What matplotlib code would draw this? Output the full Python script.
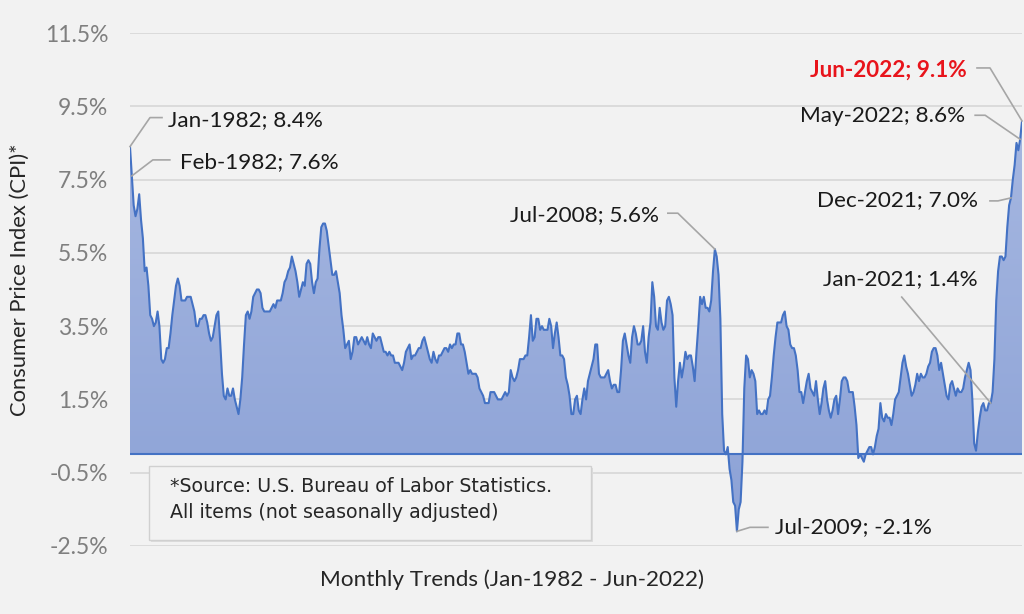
import numpy as np
import matplotlib
matplotlib.use("Agg")
import matplotlib.pyplot as plt
from matplotlib.patches import Rectangle
from matplotlib.lines import Line2D
from matplotlib.colors import LinearSegmentedColormap

# ---------------- data (CPI-U, 12-month % change, monthly) ----------------
start_year = 1982
cpi_1982 = [8.4, 7.6, 6.8, 6.5, 6.7, 7.1, 6.4, 5.9, 5.0, 5.1, 4.6, 3.8]
cpi_1983 = [3.7, 3.5, 3.6, 3.9, 3.5, 2.6, 2.5, 2.6, 2.9, 2.9, 3.3, 3.8]
cpi_1984 = [4.2, 4.6, 4.8, 4.6, 4.2, 4.2, 4.2, 4.3, 4.3, 4.3, 4.1, 3.9]
cpi_1985 = [3.5, 3.5, 3.7, 3.7, 3.8, 3.8, 3.6, 3.3, 3.1, 3.2, 3.5, 3.8]
cpi_1986 = [3.9, 3.1, 2.2, 1.6, 1.5, 1.8, 1.6, 1.6, 1.8, 1.5, 1.3, 1.1]
cpi_1987 = [1.5, 2.1, 3.0, 3.8, 3.9, 3.7, 3.9, 4.3, 4.4, 4.5, 4.5, 4.4]
cpi_1988 = [4.0, 3.9, 3.9, 3.9, 3.9, 4.0, 4.1, 4.0, 4.2, 4.2, 4.2, 4.4]
cpi_1989 = [4.7, 4.8, 5.0, 5.1, 5.4, 5.2, 5.0, 4.7, 4.3, 4.5, 4.7, 4.6]
cpi_1990 = [5.2, 5.3, 5.2, 4.7, 4.4, 4.7, 4.8, 5.6, 6.2, 6.3, 6.3, 6.1]
cpi_1991 = [5.7, 5.3, 4.9, 4.9, 5.0, 4.7, 4.4, 3.8, 3.4, 2.9, 3.0, 3.1]
cpi_1992 = [2.6, 2.8, 3.2, 3.2, 3.0, 3.1, 3.2, 3.1, 3.0, 3.2, 3.0, 2.9]
cpi_1993 = [3.3, 3.2, 3.1, 3.2, 3.2, 3.0, 2.8, 2.8, 2.7, 2.8, 2.7, 2.7]
cpi_1994 = [2.5, 2.5, 2.5, 2.4, 2.3, 2.5, 2.8, 2.9, 3.0, 2.6, 2.7, 2.7]
cpi_1995 = [2.8, 2.9, 2.9, 3.1, 3.2, 3.0, 2.8, 2.6, 2.5, 2.8, 2.6, 2.5]
cpi_1996 = [2.7, 2.7, 2.8, 2.9, 2.9, 2.8, 3.0, 2.9, 3.0, 3.0, 3.3, 3.3]
cpi_1997 = [3.0, 3.0, 2.8, 2.5, 2.2, 2.3, 2.2, 2.2, 2.2, 2.1, 1.8, 1.7]
cpi_1998 = [1.6, 1.4, 1.4, 1.4, 1.7, 1.7, 1.7, 1.6, 1.5, 1.5, 1.5, 1.6]
cpi_1999 = [1.7, 1.6, 1.7, 2.3, 2.1, 2.0, 2.1, 2.3, 2.6, 2.6, 2.6, 2.7]
cpi_2000 = [2.7, 3.2, 3.8, 3.1, 3.2, 3.7, 3.7, 3.4, 3.5, 3.4, 3.4, 3.4]
cpi_2001 = [3.7, 3.5, 2.9, 3.3, 3.6, 3.2, 2.7, 2.7, 2.6, 2.1, 1.9, 1.6]
cpi_2002 = [1.1, 1.1, 1.5, 1.6, 1.2, 1.1, 1.5, 1.8, 1.5, 2.0, 2.2, 2.4]
cpi_2003 = [2.6, 3.0, 3.0, 2.2, 2.1, 2.1, 2.1, 2.2, 2.3, 2.0, 1.8, 1.9]
cpi_2004 = [1.9, 1.7, 1.7, 2.3, 3.1, 3.3, 3.0, 2.7, 2.5, 3.2, 3.5, 3.3]
cpi_2005 = [3.0, 3.0, 3.1, 3.5, 2.8, 2.5, 3.2, 3.6, 4.7, 4.3, 3.5, 3.4]
cpi_2006 = [4.0, 3.6, 3.4, 3.5, 4.2, 4.3, 4.1, 3.8, 2.1, 1.3, 2.0, 2.5]
cpi_2007 = [2.1, 2.4, 2.8, 2.6, 2.7, 2.7, 2.4, 2.0, 2.8, 3.5, 4.3, 4.1]
cpi_2008 = [4.3, 4.0, 4.0, 3.9, 4.2, 5.0, 5.6, 5.4, 4.9, 3.7, 1.1, 0.1]
cpi_2009 = [0.0, 0.2, -0.4, -0.7, -1.3, -1.4, -2.1, -1.5, -1.3, -0.2, 1.8, 2.7]
cpi_2010 = [2.6, 2.1, 2.3, 2.2, 2.0, 1.1, 1.2, 1.1, 1.1, 1.2, 1.1, 1.5]
cpi_2011 = [1.6, 2.1, 2.7, 3.2, 3.6, 3.6, 3.6, 3.8, 3.9, 3.5, 3.4, 3.0]
cpi_2012 = [2.9, 2.9, 2.7, 2.3, 1.7, 1.7, 1.4, 1.7, 2.0, 2.2, 1.8, 1.7]
cpi_2013 = [1.6, 2.0, 1.5, 1.1, 1.4, 1.8, 2.0, 1.5, 1.2, 1.0, 1.2, 1.5]
cpi_2014 = [1.6, 1.1, 1.5, 2.0, 2.1, 2.1, 2.0, 1.7, 1.7, 1.7, 1.3, 0.8]
cpi_2015 = [-0.1, 0.0, -0.1, -0.2, 0.0, 0.1, 0.2, 0.2, 0.0, 0.2, 0.5, 0.7]
cpi_2016 = [1.4, 1.0, 0.9, 1.1, 1.0, 1.0, 0.8, 1.1, 1.5, 1.6, 1.7, 2.1]
cpi_2017 = [2.5, 2.7, 2.4, 2.2, 1.9, 1.6, 1.7, 1.9, 2.2, 2.0, 2.2, 2.1]
cpi_2018 = [2.1, 2.2, 2.4, 2.5, 2.8, 2.9, 2.9, 2.7, 2.3, 2.5, 2.2, 1.9]
cpi_2019 = [1.6, 1.5, 1.9, 2.0, 1.8, 1.6, 1.8, 1.7, 1.7, 1.8, 2.1, 2.3]
cpi_2020 = [2.5, 2.3, 1.5, 0.3, 0.1, 0.6, 1.0, 1.3, 1.4, 1.2, 1.2, 1.4]
cpi_2021 = [1.4, 1.7, 2.6, 4.2, 5.0, 5.4, 5.4, 5.3, 5.4, 6.2, 6.8, 7.0]
cpi_2022 = [7.5, 7.9, 8.5, 8.3, 8.6, 9.1]

yearly = [cpi_1982, cpi_1983, cpi_1984, cpi_1985, cpi_1986, cpi_1987, cpi_1988,
          cpi_1989, cpi_1990, cpi_1991, cpi_1992, cpi_1993, cpi_1994, cpi_1995,
          cpi_1996, cpi_1997, cpi_1998, cpi_1999, cpi_2000, cpi_2001, cpi_2002,
          cpi_2003, cpi_2004, cpi_2005, cpi_2006, cpi_2007, cpi_2008, cpi_2009,
          cpi_2010, cpi_2011, cpi_2012, cpi_2013, cpi_2014, cpi_2015, cpi_2016,
          cpi_2017, cpi_2018, cpi_2019, cpi_2020, cpi_2021, cpi_2022]
values = np.array([v for yr in yearly for v in yr])
month_names = ["Jan", "Feb", "Mar", "Apr", "May", "Jun",
               "Jul", "Aug", "Sep", "Oct", "Nov", "Dec"]
months = [f"{month_names[i % 12]}-{start_year + i // 12}" for i in range(len(values))]

ytick_values = [-2.5, -0.5, 1.5, 3.5, 5.5, 7.5, 9.5, 11.5]
ytick_labels = [f"{v:.1f}%" for v in ytick_values]

# labelled points: month label, (text dx, text dy), leader vertices, ha, color, weight
labelled = [
    ("Jan-1982", (38, 26), [(20, 29), (32, 29)], "left", "#1a1a1a", "normal"),
    ("Feb-1982", (48, 14), [(21, 16), (38, 16)], "left", "#1a1a1a", "normal"),
    ("Jul-2008", (-56, 34), [(-37, 36), (-47, 36)], "right", "#1a1a1a", "normal"),
    ("Jul-2009", (38, 4), [(13, 4), (31, 4)], "left", "#1a1a1a", "normal"),
    ("Jan-2021", (-13, 124), [(-89, 106)], "right", "#1a1a1a", "normal"),
    ("Dec-2021", (-33, -2), [(-13, -3), (-21, -3)], "right", "#1a1a1a", "normal"),
    ("May-2022", (-55, 23), [(-35, 24), (-45, 24)], "right", "#1a1a1a", "normal"),
    ("Jun-2022", (-55, 51), [(-32, 53), (-45, 53)], "right", "#e8141b", "bold"),
]

# ---------------- figure ----------------
W, H = 1024, 614
fig = plt.figure(figsize=(W / 100, H / 100), dpi=100)
bg = "#F2F2F2"
fig.patch.set_facecolor(bg)
font = "Lato"
plt.rcParams["font.family"] = [font, "DejaVu Sans"]

ax = fig.add_axes([130 / W, 1 - 546 / H, (1022 - 130) / W, (546 - 33) / H])
ax.set_facecolor(bg)
x = np.arange(len(values))

ax.set_yticks(ytick_values)
ax.set_yticklabels(ytick_labels, color="#7F7F7F", fontsize=16.5)
ax.tick_params(axis="y", length=0, pad=15.5)
ax.set_xticks([])
for s in ax.spines.values():
    s.set_visible(False)
ax.grid(axis="y", color="#D9D9D9", lw=1.3)
ax.set_axisbelow(True)

# gradient fill clipped to area polygon
poly = ax.fill_between(x, values, 0, color="none", lw=0)
cmap = LinearSegmentedColormap.from_list("g", ["#8BA1D6", "#A7B8E1"])
grad = np.linspace(0, 1, 256).reshape(-1, 1)
im = ax.imshow(grad, cmap=cmap, origin="lower", aspect="auto",
               extent=[0, len(values) - 1, -2.5, 9.5], zorder=2)
im.set_clip_path(poly.get_paths()[0], transform=ax.transData)
ax.plot(x, values, color="#4472C4", lw=1.5, zorder=3)
ax.axhline(0, color="#4472C4", lw=1.5, zorder=3)
ax.set_xlim(0, len(values) - 1)
ax.set_ylim(-2.5, 11.5)

# annotations (leader lines in pixel offsets)
fig.canvas.draw()
for lab, (tdx, tdy), elbows, ha, col, wt in labelled:
    i = months.index(lab)
    v = values[i]
    px, py = ax.transData.transform((i, v))
    xs = [px] + [px + e[0] for e in elbows]
    ys = [py] + [py + e[1] for e in elbows]
    fig.add_artist(Line2D(xs, ys, transform=None, color="#A6A6A6", lw=1.2))
    fig.text((px + tdx) / W, (py + tdy) / H, f"{lab}; {v:.1f}%",
             ha=ha, va="center", fontsize=16.2, color=col, weight=wt)

# axis titles
fig.text(20 / W, 1 - 280 / H, "Consumer Price Index (CPI)*", rotation=90,
         ha="center", va="center", fontsize=15.8, color="#262626")
fig.text(512 / W, 1 - 580 / H, "Monthly Trends (Jan-1982 - Jun-2022)",
         ha="center", va="center", fontsize=16.2, color="#262626")

# source box
fig.add_artist(Rectangle((151 / W, 1 - 542 / H), (591 - 149) / W, (540 - 466) / H,
                         transform=fig.transFigure, facecolor="#DDDDDD",
                         edgecolor="none", zorder=4))
fig.add_artist(Rectangle((149 / W, 1 - 540 / H), (591 - 149) / W, (540 - 466) / H,
                         transform=fig.transFigure, facecolor=bg,
                         edgecolor="#D0D0D0", lw=1.0, zorder=5))
fig.text(170 / W, 1 - 486 / H, "*Source: U.S. Bureau of Labor Statistics.",
         ha="left", va="center", fontsize=13.7, color="#262626", zorder=6,
         family=["DejaVu Sans"])
fig.text(170 / W, 1 - 513 / H, "All items (not seasonally adjusted)",
         ha="left", va="center", fontsize=13.7, color="#262626", zorder=6,
         family=["DejaVu Sans"])

fig.savefig("out.png", dpi=100, facecolor=bg)
